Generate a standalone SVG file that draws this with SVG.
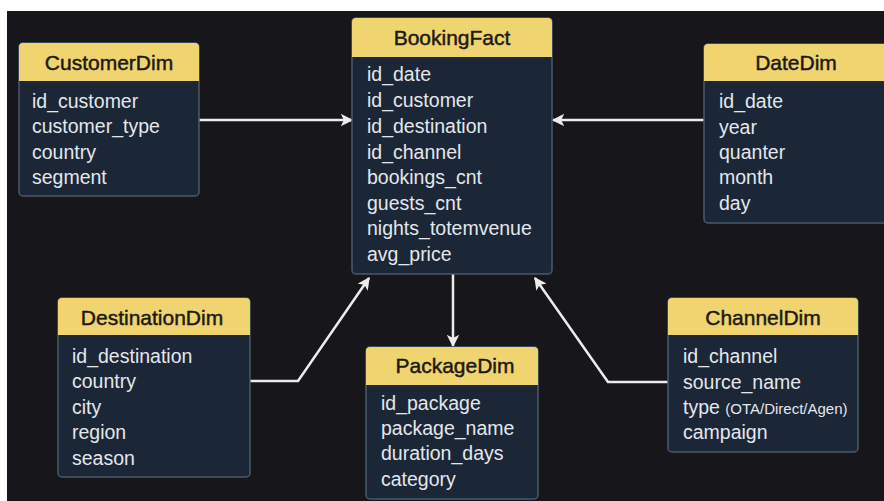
<svg xmlns="http://www.w3.org/2000/svg" width="884" height="501" viewBox="0 0 884 501">
  <defs>
    <marker id="arrow" viewBox="0 0 10 10" refX="9" refY="5" markerWidth="5" markerHeight="5" markerUnits="strokeWidth" orient="auto">
      <path d="M0,0 L10,5 L0,10 L2.5,5 Z" fill="#ececec"/>
    </marker>
    <style>
      .box { fill: #1b2637; stroke: #4a5a6e; stroke-width: 1.5; }
      .head { fill: #f0d470; }
      .title { font-family: "Liberation Sans", Arial, sans-serif; font-size: 21px; fill: #1d1a12; stroke: #1d1a12; stroke-width: 0.45; text-anchor: middle; }
      .row { font-family: "Liberation Sans", Arial, sans-serif; font-size: 19.5px; fill: #e4e7ec; }
      .small { font-size: 15px; }
      .link { fill: none; stroke: #ececec; stroke-width: 2.5; stroke-linejoin: miter; }
    </style>
  </defs>

  <!-- canvas -->
  <rect x="0" y="0" width="884" height="501" fill="#ffffff"/>
  <rect x="7" y="11" width="877" height="490" fill="#17171b"/>

  <!-- relationships -->
  <g id="connectors">
    <path class="link" d="M199,120 H352" marker-end="url(#arrow)"/>
    <path class="link" d="M704,120 H553" marker-end="url(#arrow)"/>
    <path class="link" d="M250,381 H298 L369,278" marker-end="url(#arrow)"/>
    <path class="link" d="M668,382 H608 L535,278" marker-end="url(#arrow)"/>
    <path class="link" d="M453,274 V346" marker-end="url(#arrow)"/>
  </g>

  <g id="CustomerDim">
    <rect class="box" x="19" y="43" width="180" height="153" rx="4"/>
    <path class="head" d="M19,81 V47 a4,4 0 0 1 4,-4 H195 a4,4 0 0 1 4,4 V81 Z"/>
    <text class="title" x="109" y="70">CustomerDim</text>
    <text class="row" x="32" y="108">id_customer</text>
    <text class="row" x="32" y="133">customer_type</text>
    <text class="row" x="32" y="159">country</text>
    <text class="row" x="32" y="184">segment</text>
  </g>

  <g id="BookingFact">
    <rect class="box" x="352" y="18" width="200" height="256" rx="4"/>
    <path class="head" d="M352,57 V22 a4,4 0 0 1 4,-4 H548 a4,4 0 0 1 4,4 V57 Z"/>
    <text class="title" x="452" y="45">BookingFact</text>
    <text class="row" x="367" y="81">id_date</text>
    <text class="row" x="367" y="107">id_customer</text>
    <text class="row" x="367" y="133">id_destination</text>
    <text class="row" x="367" y="159">id_channel</text>
    <text class="row" x="367" y="184">bookings_cnt</text>
    <text class="row" x="367" y="210">guests_cnt</text>
    <text class="row" x="367" y="235">nights_totemvenue</text>
    <text class="row" x="367" y="261">avg_price</text>
  </g>

  <g id="DateDim">
    <rect class="box" x="704" y="44" width="186" height="179" rx="4"/>
    <path class="head" d="M704,81 V48 a4,4 0 0 1 4,-4 H890 V81 Z"/>
    <text class="title" x="796" y="70">DateDim</text>
    <text class="row" x="719" y="108">id_date</text>
    <text class="row" x="719" y="134">year</text>
    <text class="row" x="719" y="159">quanter</text>
    <text class="row" x="719" y="184">month</text>
    <text class="row" x="719" y="210">day</text>
  </g>

  <g id="DestinationDim">
    <rect class="box" x="58" y="298" width="192" height="179" rx="4"/>
    <path class="head" d="M58,335 V302 a4,4 0 0 1 4,-4 H246 a4,4 0 0 1 4,4 V335 Z"/>
    <text class="title" x="152" y="325">DestinationDim</text>
    <text class="row" x="72" y="363">id_destination</text>
    <text class="row" x="72" y="388">country</text>
    <text class="row" x="72" y="414">city</text>
    <text class="row" x="72" y="439">region</text>
    <text class="row" x="72" y="465">season</text>
  </g>

  <g id="PackageDim">
    <rect class="box" x="366" y="347" width="172" height="152" rx="4"/>
    <path class="head" d="M366,385 V351 a4,4 0 0 1 4,-4 H534 a4,4 0 0 1 4,4 V385 Z"/>
    <text class="title" x="455" y="373">PackageDim</text>
    <text class="row" x="381" y="410">id_package</text>
    <text class="row" x="381" y="435">package_name</text>
    <text class="row" x="381" y="460">duration_days</text>
    <text class="row" x="381" y="486">category</text>
  </g>

  <g id="ChannelDim">
    <rect class="box" x="668" y="298" width="190" height="154" rx="4"/>
    <path class="head" d="M668,335 V302 a4,4 0 0 1 4,-4 H854 a4,4 0 0 1 4,4 V335 Z"/>
    <text class="title" x="763" y="325">ChannelDim</text>
    <text class="row" x="683" y="363">id_channel</text>
    <text class="row" x="683" y="389">source_name</text>
    <text class="row" x="683" y="414">type <tspan class="small">(OTA/Direct/Agen)</tspan></text>
    <text class="row" x="683" y="439">campaign</text>
  </g>
</svg>
